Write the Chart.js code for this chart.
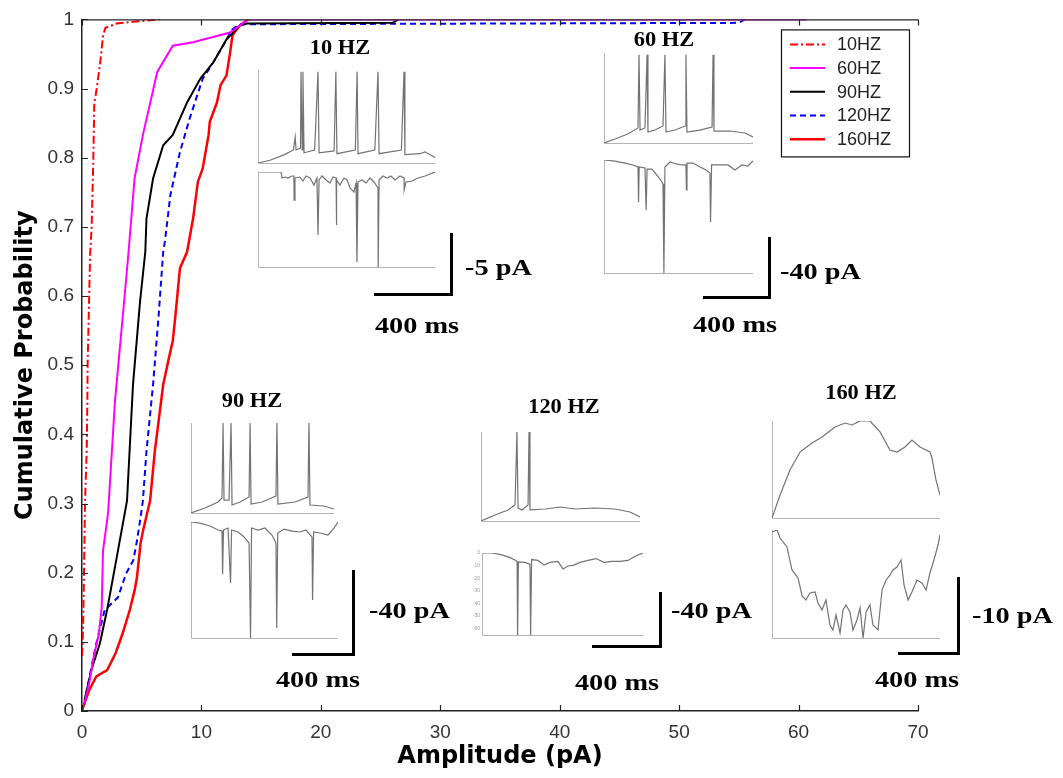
<!DOCTYPE html>
<html>
<head>
<meta charset="utf-8">
<script src="https://cdn.jsdelivr.net/npm/chart.js@4.4.1/dist/chart.umd.min.js"></script>
<style>
  html, body { margin: 0; padding: 0; background: #fff; }
  #stage { position: relative; width: 1063px; height: 778px; overflow: hidden; }
  #stage canvas { position: absolute; }
  .lbl {
    position: absolute; white-space: nowrap; color: #000;
    font-family: "Liberation Serif", "Times New Roman", serif; font-weight: bold;
  }
  .title { font-size: 20px; transform: translate(-50%, -50%) scaleX(1.12); }
  .ms { font-size: 24px; transform: translate(-50%, -50%) scaleX(1.18); }
  .pa { font-size: 24px; transform-origin: left center; transform: translateY(-50%) scaleX(1.18); }
  .bar { position: absolute; border-right: 3px solid #000; border-bottom: 3px solid #000; }
</style>
</head>
<body>
<div id="stage">
  <canvas id="main" width="1063" height="778" style="left:0;top:0"></canvas>

  <div class="lbl title" style="left:340px;top:47px">10 HZ</div>
  <div class="lbl title" style="left:664px;top:39px">60 HZ</div>
  <div class="lbl title" style="left:252px;top:400px">90 HZ</div>
  <div class="lbl title" style="left:564px;top:406px">120 HZ</div>
  <div class="lbl title" style="left:861px;top:392px">160 HZ</div>

  <div class="bar" style="left:374px;top:233px;width:76px;height:60px"></div>
  <div class="bar" style="left:703px;top:237px;width:65px;height:59px"></div>
  <div class="bar" style="left:292px;top:570px;width:60px;height:83px"></div>
  <div class="bar" style="left:592px;top:592px;width:67px;height:53px"></div>
  <div class="bar" style="left:898px;top:577px;width:59px;height:75px"></div>

  <div class="lbl pa" style="left:465px;top:267px">-5 pA</div>
  <div class="lbl pa" style="left:780px;top:271px">-40 pA</div>
  <div class="lbl pa" style="left:369px;top:610px">-40 pA</div>
  <div class="lbl pa" style="left:671px;top:610px">-40 pA</div>
  <div class="lbl pa" style="left:972px;top:615px">-10 pA</div>

  <div class="lbl ms" style="left:417px;top:325px">400 ms</div>
  <div class="lbl ms" style="left:735px;top:324px">400 ms</div>
  <div class="lbl ms" style="left:318px;top:679px">400 ms</div>
  <div class="lbl ms" style="left:617px;top:682px">400 ms</div>
  <div class="lbl ms" style="left:917px;top:679px">400 ms</div>
</div>

<script>
// cumulative amplitude distributions
const amplitudeTicks = [0, 10, 20, 30, 40, 50, 60, 70];
const probabilityTicks = [0, 0.1, 0.2, 0.3, 0.4, 0.5, 0.6, 0.7, 0.8, 0.9, 1];
const probabilityLabels = ["0", "0.1", "0.2", "0.3", "0.4", "0.5", "0.6", "0.7", "0.8", "0.9", "1"];

const amp10 = [0, 0.05, 0.1, 0.17, 0.25, 0.4, 0.45, 0.47, 0.6, 0.68, 0.81, 0.95, 1.03, 1.1, 1.23, 1.5, 1.77, 1.96, 2.3, 2.9, 4.5, 6.5];
const prob10 = [0.08, 0.1, 0.13, 0.2, 0.3, 0.38, 0.45, 0.5, 0.6, 0.66, 0.7, 0.8, 0.88, 0.885, 0.9, 0.934, 0.977, 0.988, 0.99, 0.994, 0.997, 1];

const amp60 = [0.2, 0.6, 1.0, 1.4, 1.65, 1.76, 2.1, 2.2, 2.76, 3.4, 3.9, 4.4, 5.1, 6.3, 7.6, 9.3, 12.4, 13.2, 13.9, 60.7];
const prob60 = [0.01, 0.04, 0.08, 0.11, 0.15, 0.232, 0.275, 0.29, 0.448, 0.568, 0.664, 0.77, 0.833, 0.924, 0.962, 0.967, 0.981, 0.991, 1, 1];

const amp90 = [0.2, 0.8, 1.5, 2.1, 2.76, 3.77, 4.27, 4.86, 5.3, 5.4, 5.95, 6.8, 7.6, 8.8, 9.9, 11, 12.1, 13.2, 13.8, 26, 26.5];
const prob90 = [0.015, 0.06, 0.098, 0.146, 0.208, 0.304, 0.472, 0.592, 0.664, 0.712, 0.77, 0.818, 0.833, 0.88, 0.914, 0.938, 0.971, 0.991, 0.994, 0.995, 1];

const amp120 = [0.2, 0.4, 1.2, 1.9, 3.0, 3.7, 4.3, 4.6, 4.86, 5.1, 5.4, 5.95, 6.4, 6.8, 6.95, 7.4, 8.2, 9.0, 10.1, 11, 12.1, 12.6, 13.2, 55, 55.5];
const prob120 = [0.01, 0.03, 0.098, 0.146, 0.164, 0.199, 0.218, 0.246, 0.275, 0.304, 0.376, 0.472, 0.568, 0.664, 0.68, 0.746, 0.808, 0.856, 0.914, 0.938, 0.971, 0.986, 0.993, 0.995, 1];

const amp160 = [0, 0.1, 0.6, 1.2, 2.1, 2.8, 3.4, 4.0, 4.4, 4.6, 4.9, 5.1, 5.7, 6.1, 6.8, 7.4, 7.6, 7.8, 8.2, 8.8, 9.3, 9.7, 10.1, 10.6, 10.7, 11.3, 11.6, 12.1, 12.4, 12.6, 13.2, 13.9];
const prob160 = [0, 0.006, 0.03, 0.05, 0.059, 0.083, 0.112, 0.146, 0.174, 0.193, 0.242, 0.26, 0.304, 0.376, 0.472, 0.52, 0.535, 0.568, 0.64, 0.664, 0.712, 0.765, 0.784, 0.833, 0.852, 0.88, 0.905, 0.919, 0.952, 0.977, 0.991, 1];

// example recordings, [time %, amplitude %] of each trace window
const trace10Top = [[0,0],[6.8,3],[15,9],[20,14],[21,28],[21.5,14],[24,16],[24.3,98],[25,14],[25.4,98],[26,11],[32,14],[33.9,98],[34.5,11],[43,13],[44,98],[44.6,10],[55,14],[56,98],[56.5,10],[66,14],[67.8,98],[68.4,10],[81,14],[82.5,98],[83,9],[91.5,10],[94.4,12],[100,6]];
const trace10Bottom = [[0,100],[13,100],[13.6,93.7],[15.3,94.7],[17,93.7],[19.2,95.8],[20.3,95.8],[20.4,70.5],[20.9,93.7],[23.7,94.7],[25.4,90.5],[27.1,95.8],[29.4,93.7],[31.6,86.3],[33.3,93.7],[33.9,33.7],[34.5,91.6],[36.2,95.8],[38.4,91.6],[40.7,88.4],[42.4,94.7],[44.1,93.7],[44.2,44.2],[44.6,91.6],[46.3,86.3],[48.6,93.7],[50.3,91.6],[52,83.2],[54.2,78.9],[55.4,88.4],[55.9,5.3],[56.5,89.5],[58.8,91.6],[61,88.4],[63.3,93.7],[65.5,89.5],[67.8,83.2],[67.9,0],[68.4,91.6],[70.6,95.8],[72.9,93.7],[75.1,95.8],[77.4,91.6],[80.2,95.8],[82.5,93.7],[82.6,81],[83.6,89.5],[87,90.5],[90.4,93.7],[94.4,95.8],[97.2,97.9],[100,100]];

const trace60Top = [[0,0],[7.4,4.4],[16,10],[22.8,16.7],[23.5,98],[24.2,14.4],[27.5,16.7],[28.9,98],[29.5,12.2],[34.2,14.4],[39.6,18.9],[40.9,98],[41.6,12.2],[47.7,14.4],[54.4,18.9],[55,98],[55.7,12.2],[64.4,14.4],[72.5,17.8],[73.2,98],[73.8,13.3],[84.6,13.3],[94.6,11.1],[100,6.7]];
const trace60Bottom = [[0,100],[7.4,99],[14,97.3],[19.5,95.6],[22.8,93.8],[23.2,62.8],[23.6,93.8],[27.5,92.9],[28.3,55.8],[28.9,92],[32.2,92],[34.9,87.6],[37.6,83.2],[39.6,78.8],[40.2,0],[40.9,93.8],[44.3,98.2],[48.3,96.5],[52.3,95.6],[55,95.6],[55.3,73.5],[55.7,97.3],[59.7,97.3],[64.4,93.8],[68.5,91.2],[71.1,88.5],[71.5,45.1],[72.2,95.6],[77.9,95.6],[83.2,95.6],[87.9,91.2],[92.6,95.6],[96.6,94.7],[100,99.1]];

const trace90Top = [[0,0],[9.8,5.6],[18.9,12.2],[21.7,16.7],[22.4,100],[23.1,14.4],[26.6,14.4],[28,100],[28.7,8.9],[34.3,12.2],[40.6,17.8],[41.3,100],[42,10],[49.7,12.2],[59.4,18.9],[60.1,100],[60.8,10],[72.7,12.2],[81.8,17.8],[82.5,100],[83.2,8.9],[93,7.8],[100,4.4]];
const trace90Bottom = [[0,100],[6.1,99],[12.9,96.6],[18.4,93.1],[21.1,92.2],[21.5,55.2],[22.1,93.1],[25.2,94.8],[26.9,47.4],[27.6,93.1],[32,91.4],[36.1,87.1],[39.5,81.9],[40.5,0],[41.2,94.8],[45.6,93.1],[50.3,94.8],[55.1,88.8],[57.8,81.9],[58.3,8.6],[59,90.5],[63.3,93.9],[68.7,92.2],[74.1,91.4],[78.2,93.1],[82.3,87.1],[82.7,32.8],[83.4,91.4],[87.8,90.5],[93.2,88.8],[97.3,94.8],[100,100]];

const trace120Top = [[0,0],[8.8,6.7],[17,12.4],[21.4,18],[22.6,100],[23.3,14.6],[25.8,12.4],[29.6,18],[30.2,100],[30.8,12.4],[40.3,13.5],[49.7,15.7],[59.1,13.5],[71.7,14.6],[84.3,13.5],[93.7,10.1],[100,4.5]];
// this window is calibrated in pA
const current120Ticks = [0, -10, -20, -30, -40, -50, -60];
const trace120Bottom = [[0,0],[6.2,0],[12.4,-1.5],[17.4,-3.7],[21.1,-5.9],[21.8,-7],[22.1,-65],[22.6,-7],[26.7,-7.4],[29.8,-8.9],[30.2,-65],[30.8,-5.2],[34.8,-5.9],[38.5,-9.6],[42.2,-7.4],[47.2,-6.7],[50.3,-12.6],[53.4,-10.3],[57.1,-9.6],[60.9,-7.4],[65.8,-5.9],[70.8,-4.4],[75.8,-7.4],[80.7,-6.7],[85.7,-6.7],[90.7,-5.9],[95.7,-2.2],[100,0]];

const trace160Top = [[0,0],[4.8,23.7],[10.7,49.5],[16.7,68],[23.8,77.3],[29.8,83.5],[37.5,93.8],[43.5,97.9],[47.6,95.9],[52.4,100],[58.3,100],[64.3,88.7],[70.2,70.1],[74.4,68],[79.2,73.2],[83.3,80.4],[88.1,73.2],[94,68],[95.2,61.9],[97.6,39.2],[100,23.7]];
const trace160Bottom = [[0,98.1],[3,100],[4.8,92.6],[8.9,84.3],[11.9,63],[15.5,55.6],[17.9,38.9],[20.2,35.2],[22.6,41.7],[25.6,42.6],[27.4,32.4],[29.8,25.9],[32.1,35.2],[34.5,12],[36.3,7.4],[38.1,21.3],[40.5,4.6],[42.3,25.9],[44,30.6],[46.4,24.1],[48.2,7.4],[50.6,16.7],[52.4,27.8],[54.2,0],[56,24.1],[58.3,30.6],[60.1,12],[63.1,7.4],[65.5,44.4],[67.9,53.7],[70.2,58.3],[72,63],[74.4,65.7],[76.8,72.2],[78.6,49.1],[81,35.2],[83.3,42.6],[86.3,53.7],[89.3,50.9],[91.7,44.4],[94,60.2],[96.4,72.2],[98.8,86.1],[100,95.4]];

const toPoints = (xs, ys) => xs.map((x, i) => ({ x, y: ys[i] }));

// inward tick marks, top frame line and the boxed legend
const framePlugin = {
  id: "frame",
  afterDraw(chart) {
    const { ctx, chartArea: area, scales } = chart;
    ctx.save();
    ctx.strokeStyle = "#222";
    ctx.lineWidth = 1.2;
    ctx.beginPath();
    ctx.moveTo(area.left, area.top + 0.5);
    ctx.lineTo(area.right, area.top + 0.5);
    for (const v of amplitudeTicks) {
      const px = Math.round(scales.x.getPixelForValue(v)) + 0.5;
      ctx.moveTo(px, area.bottom);
      ctx.lineTo(px, area.bottom - 6);
      ctx.moveTo(px, area.top);
      ctx.lineTo(px, area.top + 6);
    }
    for (const v of probabilityTicks) {
      const py = Math.round(scales.y.getPixelForValue(v)) + 0.5;
      ctx.moveTo(area.left, py);
      ctx.lineTo(area.left + 6, py);
    }
    ctx.stroke();

    // legend
    const boxRight = area.right - 9;
    const boxLeft = boxRight - 128;
    const boxTop = area.top + 10;
    const rowH = 23.7;
    const datasets = chart.data.datasets;
    ctx.fillStyle = "#fff";
    ctx.fillRect(boxLeft, boxTop, boxRight - boxLeft, 127);
    ctx.strokeStyle = "#111";
    ctx.lineWidth = 1.2;
    ctx.strokeRect(boxLeft + 0.5, boxTop + 0.5, boxRight - boxLeft, 127);
    ctx.font = '18px "Liberation Sans", Arial, sans-serif';
    ctx.textBaseline = "middle";
    datasets.forEach((ds, i) => {
      const y = boxTop + 15 + i * rowH;
      ctx.strokeStyle = ds.borderColor;
      ctx.lineWidth = ds.borderWidth;
      ctx.setLineDash(ds.borderDash || []);
      ctx.beginPath();
      ctx.moveTo(boxLeft + 9, y);
      ctx.lineTo(boxLeft + 44, y);
      ctx.stroke();
      ctx.setLineDash([]);
      ctx.fillStyle = "#222";
      ctx.fillText(ds.label, boxLeft + 56, y + 1);
    });
    ctx.restore();
  },
};

new Chart(document.getElementById("main"), {
  type: "line",
  data: {
    datasets: [
      { label: "10HZ", data: toPoints(amp10, prob10), borderColor: "#ff0000", borderWidth: 2, borderDash: [8, 3, 2, 3] },
      { label: "60HZ", data: toPoints(amp60, prob60), borderColor: "#ff00ff", borderWidth: 2 },
      { label: "90HZ", data: toPoints(amp90, prob90), borderColor: "#000000", borderWidth: 2 },
      { label: "120HZ", data: toPoints(amp120, prob120), borderColor: "#0000ff", borderWidth: 2, borderDash: [6, 4] },
      { label: "160HZ", data: toPoints(amp160, prob160), borderColor: "#ff0000", borderWidth: 2.5 },
    ],
  },
  options: {
    responsive: false,
    animation: false,
    devicePixelRatio: 1,
    events: [],
    layout: { padding: { left: 0, top: 17, right: 145, bottom: 0 } },
    elements: { point: { radius: 0 }, line: { tension: 0 } },
    plugins: { legend: { display: false }, tooltip: { enabled: false } },
    scales: {
      x: {
        type: "linear",
        min: 0,
        max: 70,
        afterBuildTicks: (s) => { s.ticks = amplitudeTicks.map((value) => ({ value })); },
        afterFit: (s) => { s.height = 67; },
        ticks: { color: "#333", padding: 10, maxRotation: 0, font: { family: '"Liberation Sans", Arial, sans-serif', size: 19 } },
        grid: { display: false, drawTicks: false },
        border: { color: "#222", width: 1.5 },
        title: {
          display: true,
          text: "Amplitude (pA)",
          color: "#000",
          padding: { top: 0, bottom: 7 },
          font: { family: '"DejaVu Sans", sans-serif', weight: "bold", size: 24 },
        },
      },
      y: {
        type: "linear",
        min: 0,
        max: 1,
        afterBuildTicks: (s) => { s.ticks = probabilityTicks.map((value) => ({ value })); },
        afterFit: (s) => { s.width = 82; },
        ticks: {
          color: "#333",
          padding: 8,
          font: { family: '"Liberation Sans", Arial, sans-serif', size: 19 },
          callback: (value, index) => probabilityLabels[index],
        },
        grid: { display: false, drawTicks: false },
        border: { color: "#222", width: 1.5 },
        title: {
          display: true,
          text: "Cumulative Probability",
          color: "#000",
          padding: { top: 11, bottom: 0 },
          font: { family: '"DejaVu Sans", sans-serif', weight: "bold", size: 24 },
        },
      },
    },
  },
  plugins: [framePlugin],
});

// small trace windows
const panels = [
  { trace: trace10Top, x: 258, y: 70, w: 177, h: 93 },
  { trace: trace10Bottom, x: 258, y: 172, w: 177, h: 95 },
  { trace: trace60Top, x: 604, y: 53, w: 149, h: 90 },
  { trace: trace60Bottom, x: 604, y: 160, w: 149, h: 113 },
  { trace: trace90Top, x: 191, y: 423, w: 143, h: 90 },
  { trace: trace90Bottom, x: 191, y: 522, w: 147, h: 116 },
  { trace: trace120Top, x: 481, y: 432, w: 159, h: 89 },
  { trace: trace120Bottom, x: 482, y: 550, w: 161, h: 88, min: -65, max: 0, ticks: current120Ticks },
  { trace: trace160Top, x: 772, y: 421, w: 168, h: 97 },
  { trace: trace160Bottom, x: 772, y: 530, w: 168, h: 108 },
];

const panelAxes = {
  id: "panelAxes",
  beforeDatasetsDraw(chart) {
    const { ctx, chartArea: a } = chart;
    ctx.save();
    ctx.strokeStyle = "#b4b4b4";
    ctx.lineWidth = 1;
    ctx.beginPath();
    ctx.moveTo(a.left + 0.5, a.top);
    ctx.lineTo(a.left + 0.5, a.bottom + 0.5);
    ctx.lineTo(a.right, a.bottom + 0.5);
    ctx.stroke();
    ctx.restore();
  },
};

const stage = document.getElementById("stage");
const pad = 2;
for (const p of panels) {
  const axisW = p.ticks ? 20 : 0;
  const canvas = document.createElement("canvas");
  canvas.width = p.w + pad * 2 + axisW;
  canvas.height = p.h + pad * 2;
  canvas.style.left = p.x - pad - axisW + "px";
  canvas.style.top = p.y - pad + "px";
  stage.appendChild(canvas);

  new Chart(canvas, {
    type: "line",
    data: {
      datasets: [{
        data: p.trace.map(([x, y]) => ({ x, y })),
        borderColor: "#737373",
        borderWidth: 1.2,
        pointRadius: 0,
        tension: 0,
      }],
    },
    options: {
      responsive: false,
      animation: false,
      devicePixelRatio: 1,
      events: [],
      layout: { padding: pad },
      plugins: { legend: { display: false }, tooltip: { enabled: false } },
      scales: {
        x: { type: "linear", min: 0, max: 100, display: false },
        y: {
          type: "linear",
          min: p.min ?? 0,
          max: p.max ?? 100,
          display: !!p.ticks,
          afterBuildTicks: (s) => { if (p.ticks) s.ticks = p.ticks.map((value) => ({ value })); },
          afterFit: (s) => { s.width = axisW; },
          ticks: { color: "#999", padding: 2, font: { size: 5 } },
          grid: { display: false, drawTicks: false },
          border: { display: false },
        },
      },
    },
    plugins: [panelAxes],
  });
}
</script>
</body>
</html>
